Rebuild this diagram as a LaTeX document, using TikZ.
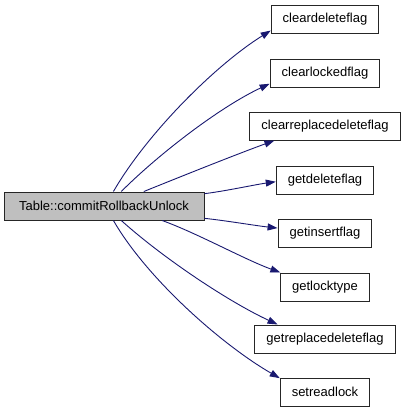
\documentclass[tikz,border=0pt]{standalone}
\usepackage{fontspec}
\setmainfont{Liberation Sans}
\usetikzlibrary{arrows.meta}
\definecolor{edgeblue}{RGB}{25,25,112}
\definecolor{mainfill}{RGB}{191,191,191}
\begin{document}
\begin{tikzpicture}[x=1pt,y=-1pt,
  fn/.style={draw=black!85,line width=1pt,minimum height=28pt,inner xsep=11.5pt,font=\fontsize{13}{15}\selectfont},
  call/.style={draw=edgeblue,line width=0.9pt,looseness=0.75,-{Triangle[length=10pt,width=7pt]}}]
\useasboundingbox (0,0) rectangle (405,413);
\node[fn,fill=mainfill,minimum width=200pt] (main) at (104,206) {Table::commitRollbackUnlock};
\foreach \n/\y/\t in {cdf/19/cleardeleteflag, clf/73/clearlockedflag, crdf/126/clearreplacedeleteflag,
  gdf/180/getdeleteflag, gif/233/getinsertflag, glt/287/getlocktype,
  grdf/339/getreplacedeleteflag, srl/392/setreadlock}
  \node[fn] (\n) at (325,\y) {\t};
\foreach \n/\a/\o/\i/\b in {cdf/57/60/212/192, clf/40/45/205/191, crdf/20/22/200/196,
  gdf/7/7/188/182, gif/353/354/174/174, glt/346/340/160/162,
  grdf/320/318/155/163, srl/303/300/150/163}
  \draw[call] (main.\a) to[out=\o,in=\i] (\n.\b);
\end{tikzpicture}
\end{document}
